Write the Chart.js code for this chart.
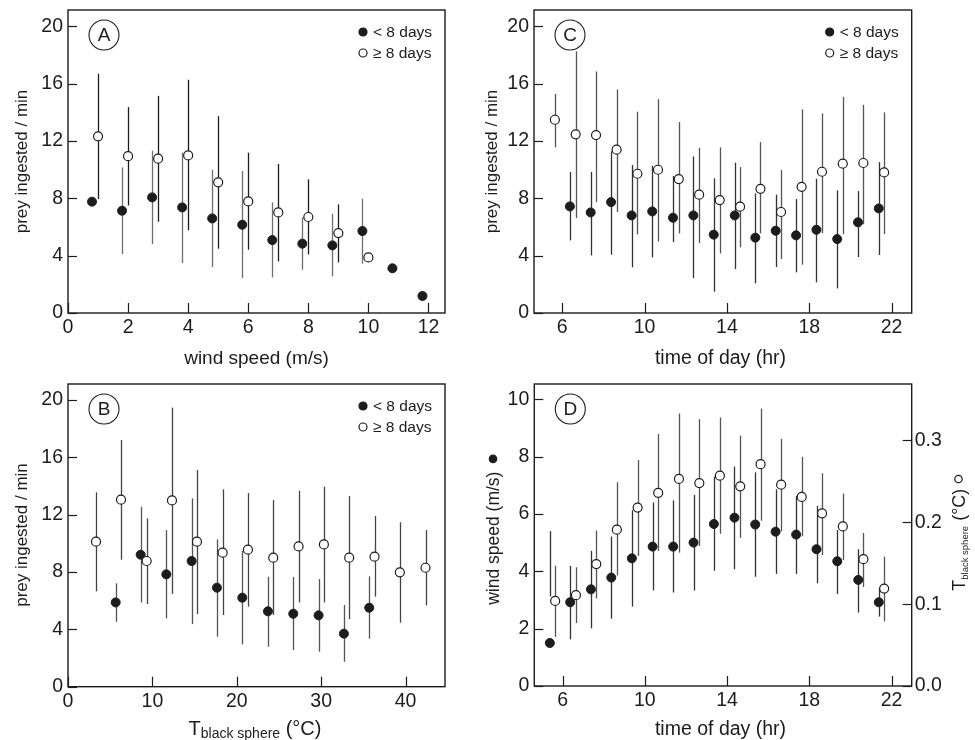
<!DOCTYPE html>
<html><head><meta charset="utf-8">
<script src="https://cdn.jsdelivr.net/npm/chart.js@4.4.1/dist/chart.umd.min.js"></script>
<style>
html,body{margin:0;padding:0;background:#fff;}
#wrap{position:relative;width:975px;height:740px;background:#fff;}
#wrap canvas{position:absolute;left:0;top:0;}
</style></head><body>
<div id="wrap">
<canvas id="cA" width="975" height="740"></canvas>
<canvas id="cB" width="975" height="740"></canvas>
<canvas id="cC" width="975" height="740"></canvas>
<canvas id="cD" width="975" height="740"></canvas>
</div>
<script>
// ---------- tick labels ----------
const preyTicks = [0, 4, 8, 12, 16, 20];
const windXTicks = [0, 2, 4, 6, 8, 10, 12];
const tempXTicks = [0, 10, 20, 30, 40];
const hourTicks = [6, 10, 14, 18, 22];
const windYTicks = [0, 2, 4, 6, 8, 10];
const tempYTicks = [0, 0.1, 0.2, 0.3];

// ---------- Panel A: prey vs wind speed ----------
const aClosedX  = [0.8, 1.8, 2.8, 3.8, 4.8, 5.8, 6.8, 7.8, 8.8, 9.8, 10.8, 11.8];
const aClosedY  = [7.77, 7.14, 8.07, 7.37, 6.60, 6.16, 5.09, 4.84, 4.72, 5.72, 3.12, 1.19];
const aClosedLo = [null, 4.12, 4.81, 3.49, 3.21, 2.44, 2.49, 3.02, 2.56, 3.44, null, null];
const aClosedHi = [null, 10.16, 11.33, 11.20, 10.00, 9.91, 7.72, 6.67, 6.93, 7.98, null, null];
const aOpenX  = [1, 2, 3, 4, 5, 6, 7, 8, 9, 10];
const aOpenY  = [12.33, 10.95, 10.77, 11.00, 9.12, 7.79, 7.02, 6.70, 5.58, 3.88];
const aOpenLo = [7.95, 7.51, 6.37, 5.77, 4.49, 4.42, 3.60, 4.09, 3.53, null];
const aOpenHi = [16.70, 14.37, 15.16, 16.28, 13.74, 11.19, 10.40, 9.33, 7.58, null];

// ---------- Panel B: prey vs black sphere temperature ----------
const bClosedX  = [5.65, 8.61, 11.65, 14.65, 17.65, 20.65, 23.69, 26.69, 29.69, 32.69, 35.69];
const bClosedY  = [5.88, 9.21, 7.84, 8.77, 6.91, 6.21, 5.26, 5.09, 4.98, 3.70, 5.51];
const bClosedLo = [4.53, 5.88, 4.77, 4.37, 3.49, 2.95, 2.79, 2.56, 2.44, 1.74, 3.35];
const bClosedHi = [7.21, 12.56, 10.93, 13.14, 10.28, 9.47, 7.67, 7.65, 7.51, 5.70, 7.70];
const bOpenX  = [3.32, 6.28, 9.32, 12.32, 15.28, 18.32, 21.32, 24.32, 27.32, 30.32, 33.32, 36.32, 39.32, 42.36];
const bOpenY  = [10.12, 13.05, 8.77, 13.00, 10.12, 9.35, 9.56, 9.00, 9.79, 9.93, 9.00, 9.07, 7.98, 8.30];
const bOpenLo = [6.65, 8.86, 5.77, 6.47, 5.07, 5.00, 5.58, 5.00, 5.88, 5.88, 4.72, 6.28, 4.47, 5.67];
const bOpenHi = [13.56, 17.21, 11.74, 19.47, 15.12, 13.77, 13.51, 13.02, 13.67, 13.95, 13.30, 11.91, 11.47, 10.93];

// ---------- Panel C: prey vs time of day ----------
const cClosedX  = [6.37, 7.38, 8.37, 9.37, 10.37, 11.38, 12.37, 13.36, 14.38, 15.38, 16.37, 17.36, 18.35, 19.36, 20.37, 21.38];
const cClosedY  = [7.44, 7.02, 7.74, 6.81, 7.09, 6.65, 6.81, 5.47, 6.81, 5.26, 5.74, 5.42, 5.81, 5.16, 6.33, 7.30];
const cClosedLo = [5.07, 4.02, 4.07, 3.19, 3.88, 4.95, 2.44, 1.49, 3.07, 2.07, 3.21, 2.84, 2.14, 1.72, 3.91, 4.05];
const cClosedHi = [9.84, 9.84, 11.28, 10.33, 10.28, 9.56, 10.93, 9.40, 10.49, 8.35, 8.26, 7.95, 9.37, 8.56, 8.51, 10.53];
const cOpenX  = [5.64, 6.65, 7.64, 8.64, 9.65, 10.65, 11.66, 12.65, 13.65, 14.64, 15.63, 16.63, 17.63, 18.62, 19.63, 20.63, 21.64];
const cOpenY  = [13.49, 12.47, 12.42, 11.40, 9.72, 10.00, 9.35, 8.26, 7.88, 7.42, 8.67, 7.05, 8.81, 9.86, 10.42, 10.47, 9.81];
const cOpenLo = [11.56, 6.63, 7.74, 7.05, 5.49, 5.00, 5.56, 4.88, 4.16, 4.58, 5.56, 3.77, 3.37, 5.58, 5.51, 6.19, 5.51];
const cOpenHi = [15.30, 18.26, 16.86, 15.60, 14.05, 14.93, 13.33, 11.53, 11.56, 10.19, 11.93, 9.98, 14.21, 13.93, 15.09, 14.53, 14.00];

// ---------- Panel D: wind speed (closed) and black sphere temp (open) vs time ----------
const dClosedX  = [5.38, 6.37, 7.38, 8.37, 9.37, 10.38, 11.38, 12.37, 13.36, 14.36, 15.37, 16.36, 17.36, 18.35, 19.36, 20.38, 21.38];
const dClosedY  = [1.50, 2.92, 3.37, 3.78, 4.45, 4.86, 4.86, 5.00, 5.65, 5.87, 5.63, 5.38, 5.28, 4.77, 4.35, 3.70, 2.92];
const dClosedLo = [3.12, 1.63, 2.01, 2.35, 2.77, 3.33, 3.26, 3.33, 4.02, 4.07, 3.81, 3.91, 3.91, 3.58, 3.21, 2.56, 2.42];
const dClosedHi = [5.40, 4.19, 4.71, 5.21, 6.13, 6.40, 6.47, 6.66, 7.30, 7.65, 7.45, 6.86, 6.63, 6.28, 5.44, 4.77, 3.41];
const dOpenX  = [5.64, 6.65, 7.64, 8.64, 9.65, 10.65, 11.66, 12.65, 13.65, 14.64, 15.63, 16.63, 17.63, 18.62, 19.63, 20.63, 21.64];
const dOpenY  = [0.104, 0.111, 0.149, 0.191, 0.218, 0.236, 0.253, 0.248, 0.257, 0.244, 0.271, 0.246, 0.231, 0.211, 0.195, 0.155, 0.119];
const dOpenLo = [0.060, 0.077, 0.107, 0.135, 0.159, 0.165, 0.163, 0.171, 0.186, 0.181, 0.202, 0.189, 0.183, 0.160, 0.154, 0.121, 0.079];
const dOpenHi = [0.147, 0.145, 0.190, 0.249, 0.276, 0.308, 0.333, 0.326, 0.328, 0.306, 0.339, 0.302, 0.280, 0.260, 0.235, 0.187, 0.158];

const legendLabels = ['< 8 days', '\u2265 8 days'];

// ---------- drawing helpers ----------
const FONT = '"Liberation Sans", Arial, Helvetica, sans-serif';
const INK = '#1c1c1c';
const W = 975, H = 740, XAXIS_H = 50;

function drawMarker(ctx, x, y, r, filled) {
  ctx.beginPath(); ctx.arc(x, y, r, 0, Math.PI * 2);
  ctx.fillStyle = filled ? INK : '#fff'; ctx.fill();
  ctx.lineWidth = 1.2; ctx.strokeStyle = INK; ctx.stroke();
}
function drawRich(ctx, x, y, rot, parts) {
  ctx.save(); ctx.translate(x, y); ctx.rotate(rot);
  let w = 0;
  const ms = parts.map(p => {
    let m;
    if (p.marker) m = p.r * 2 + (p.gap || 0);
    else { ctx.font = p.size + 'px ' + FONT; m = ctx.measureText(p.t).width; }
    w += m; return m;
  });
  let cx = -w / 2;
  parts.forEach((p, i) => {
    if (p.marker) drawMarker(ctx, cx + (p.gap || 0) + p.r, -(p.lift || 0), p.r, p.marker === 'closed');
    else {
      ctx.font = p.size + 'px ' + FONT; ctx.fillStyle = INK;
      ctx.textBaseline = 'alphabetic'; ctx.textAlign = 'left';
      ctx.fillText(p.t, cx, p.dy || 0);
    }
    cx += ms[i];
  });
  ctx.restore();
}

function makePlugin(p) {
  return {
    id: 'panel_' + p.id,
    beforeDatasetsDraw(chart) {
      const ctx = chart.ctx, xs = chart.scales.x;
      [p.closed, p.open].forEach(s => {
        const ys = chart.scales[s.axis || 'y'];
        ctx.save(); ctx.strokeStyle = s.bar; ctx.lineWidth = 1.3;
        s.x.forEach((xv, i) => {
          if (s.lo[i] == null || s.hi[i] == null) return;
          const px = Math.round(xs.getPixelForValue(xv)) + 0.5;
          ctx.beginPath();
          ctx.moveTo(px, ys.getPixelForValue(s.lo[i]));
          ctx.lineTo(px, ys.getPixelForValue(s.hi[i]));
          ctx.stroke();
        });
        ctx.restore();
      });
    },
    afterDraw(chart) {
      const ctx = chart.ctx, a = chart.chartArea;
      ctx.save();
      ctx.strokeStyle = INK; ctx.lineWidth = 1.4;
      ctx.strokeRect(a.left, a.top, a.right - a.left, a.bottom - a.top);
      ctx.lineWidth = 1.2;
      // inward ticks
      chart.scales.x.ticks.forEach(t => {
        const px = Math.round(chart.scales.x.getPixelForValue(t.value)) + 0.5;
        ctx.beginPath(); ctx.moveTo(px, a.bottom); ctx.lineTo(px, a.bottom - 10); ctx.stroke();
      });
      chart.scales.y.ticks.forEach(t => {
        const py = Math.round(chart.scales.y.getPixelForValue(t.value)) + 0.5;
        ctx.beginPath(); ctx.moveTo(a.left, py); ctx.lineTo(a.left + 9, py); ctx.stroke();
      });
      if (chart.scales.y2) chart.scales.y2.ticks.forEach(t => {
        const py = Math.round(chart.scales.y2.getPixelForValue(t.value)) + 0.5;
        ctx.beginPath(); ctx.moveTo(a.right, py); ctx.lineTo(a.right - 9, py); ctx.stroke();
      });
      // circled panel letter
      ctx.lineWidth = 1.1;
      ctx.beginPath(); ctx.arc(a.left + 36, a.top + 25, 15, 0, Math.PI * 2);
      ctx.fillStyle = '#fff'; ctx.fill(); ctx.stroke();
      ctx.fillStyle = INK; ctx.font = '19px ' + FONT;
      ctx.textAlign = 'center'; ctx.textBaseline = 'middle';
      ctx.fillText(p.letter, a.left + 36, a.top + 26);
      // legend
      if (p.legend) {
        ctx.font = '15.5px ' + FONT; ctx.textAlign = 'left'; ctx.textBaseline = 'middle';
        [0, 1].forEach(k => {
          const yy = a.top + 22 + k * 21;
          drawMarker(ctx, a.right - 82, yy, 4, k === 0);
          ctx.fillStyle = INK; ctx.fillText(legendLabels[k], a.right - 72, yy + 1);
        });
      }
      ctx.restore();
      p.titles.forEach(t => drawRich(ctx, t.x, t.y, t.rot || 0, t.parts));
    }
  };
}

function buildChart(p) {
  const padLeft = p.padLeft;
  const y2w = p.y2 ? 58 : 0;
  const tickFont = { size: 19.5, family: FONT };
  const noGrid = { display: false, drawTicks: false, tickLength: 0 };
  const scales = {
    x: {
      type: 'linear', position: 'bottom', min: p.x.min, max: p.x.max,
      afterBuildTicks: s => { s.ticks = p.x.ticks.map(v => ({ value: v })); },
      afterFit: s => { s.height = XAXIS_H; s.paddingLeft = 0; s.paddingRight = 0; },
      grid: noGrid, border: { display: false },
      ticks: { padding: 3, color: INK, font: tickFont, maxRotation: 0, autoSkip: false }
    },
    y: {
      type: 'linear', position: 'left', min: p.y.min, max: p.y.max,
      afterBuildTicks: s => { s.ticks = p.y.ticks.map(v => ({ value: v })); },
      afterFit: s => { s.width = p.box.l - padLeft; s.paddingTop = 0; s.paddingBottom = 0; },
      grid: noGrid, border: { display: false },
      ticks: { padding: 5, color: INK, font: tickFont, autoSkip: false }
    }
  };
  if (p.y2) {
    scales.y2 = {
      type: 'linear', position: 'right', min: p.y2.min, max: p.y2.max,
      afterBuildTicks: s => { s.ticks = p.y2.ticks.map(v => ({ value: v })); },
      afterFit: s => { s.width = y2w; s.paddingTop = 0; s.paddingBottom = 0; },
      grid: noGrid, border: { display: false },
      ticks: { padding: 3, color: INK, font: tickFont, autoSkip: false, callback: v => Number(v).toFixed(1) }
    };
  }
  const ds = [
    { label: legendLabels[0], data: p.closed.x.map((x, i) => ({ x, y: p.closed.y[i] })), yAxisID: 'y',
      pointRadius: 4.5, pointBackgroundColor: INK, pointBorderColor: INK, pointBorderWidth: 1, order: 2 },
    { label: legendLabels[1], data: p.open.x.map((x, i) => ({ x, y: p.open.y[i] })), yAxisID: p.open.axis || 'y',
      pointRadius: 4.5, pointBackgroundColor: '#fff', pointBorderColor: INK, pointBorderWidth: 1.2, order: 1 }
  ];
  return new Chart(document.getElementById(p.id), {
    type: 'scatter',
    data: { datasets: ds },
    options: {
      responsive: false, animation: false, events: [],
      layout: { padding: { left: padLeft, top: p.box.t, right: W - p.box.r - y2w, bottom: H - p.box.b - XAXIS_H } },
      plugins: { legend: { display: false }, tooltip: { enabled: false } },
      scales
    },
    plugins: [makePlugin(p)]
  });
}

const subTitle = (size, subSize, dy) => [
  { t: 'T', size }, { t: 'black sphere', size: subSize, dy }, { t: ' (\u00B0C)', size }
];

const panels = [
  { id: 'cA', letter: 'A', legend: true, padLeft: 0,
    box: { l: 68, t: 10, r: 445, b: 313 },
    x: { min: 0, max: 12.55, ticks: windXTicks }, y: { min: 0, max: 21.15, ticks: preyTicks },
    closed: { x: aClosedX, y: aClosedY, lo: aClosedLo, hi: aClosedHi, bar: '#6e6e6e' },
    open: { x: aOpenX, y: aOpenY, lo: aOpenLo, hi: aOpenHi, bar: '#1c1c1c' },
    titles: [
      { x: 256.5, y: 364, parts: [{ t: 'wind speed (m/s)', size: 19 }] },
      { x: 26.5, y: 161.5, rot: -Math.PI / 2, parts: [{ t: 'prey ingested / min', size: 17 }] }
    ] },
  { id: 'cB', letter: 'B', legend: true, padLeft: 0,
    box: { l: 68, t: 384, r: 445, b: 686.7 },
    x: { min: 0, max: 44.67, ticks: tempXTicks }, y: { min: 0, max: 21.12, ticks: preyTicks },
    closed: { x: bClosedX, y: bClosedY, lo: bClosedLo, hi: bClosedHi, bar: '#555' },
    open: { x: bOpenX, y: bOpenY, lo: bOpenLo, hi: bOpenHi, bar: '#444' },
    titles: [
      { x: 255, y: 735, parts: subTitle(20, 14, 3) },
      { x: 26.5, y: 535, rot: -Math.PI / 2, parts: [{ t: 'prey ingested / min', size: 17 }] }
    ] },
  { id: 'cC', letter: 'C', legend: true, padLeft: 480,
    box: { l: 534, t: 10, r: 911.7, b: 313 },
    x: { min: 4.625, max: 22.98, ticks: hourTicks }, y: { min: 0, max: 21.15, ticks: preyTicks },
    closed: { x: cClosedX, y: cClosedY, lo: cClosedLo, hi: cClosedHi, bar: '#333' },
    open: { x: cOpenX, y: cOpenY, lo: cOpenLo, hi: cOpenHi, bar: '#555' },
    titles: [
      { x: 720.5, y: 364, parts: [{ t: 'time of day (hr)', size: 19.5 }] },
      { x: 496.5, y: 161.5, rot: -Math.PI / 2, parts: [{ t: 'prey ingested / min', size: 17 }] }
    ] },
  { id: 'cD', letter: 'D', legend: false, padLeft: 480,
    box: { l: 534.3, t: 384, r: 911.7, b: 686 },
    x: { min: 4.625, max: 22.98, ticks: hourTicks }, y: { min: 0, max: 10.53, ticks: windYTicks },
    y2: { min: 0, max: 0.369, ticks: tempYTicks },
    closed: { x: dClosedX, y: dClosedY, lo: dClosedLo, hi: dClosedHi, bar: '#333' },
    open: { x: dOpenX, y: dOpenY, lo: dOpenLo, hi: dOpenHi, bar: '#555', axis: 'y2' },
    titles: [
      { x: 720.5, y: 735, parts: [{ t: 'time of day (hr)', size: 19.5 }] },
      { x: 499, y: 530, rot: -Math.PI / 2, parts: [{ t: 'wind speed (m/s)', size: 17.5 }, { marker: 'closed', r: 3.7, gap: 9, lift: 6 }] },
      { x: 964.5, y: 533, rot: -Math.PI / 2, parts: subTitle(18, 9.5, 3).concat([{ marker: 'open', r: 3.7, gap: 6, lift: 6 }]) }
    ] }
];

panels.forEach(buildChart);
</script>
</body></html>
